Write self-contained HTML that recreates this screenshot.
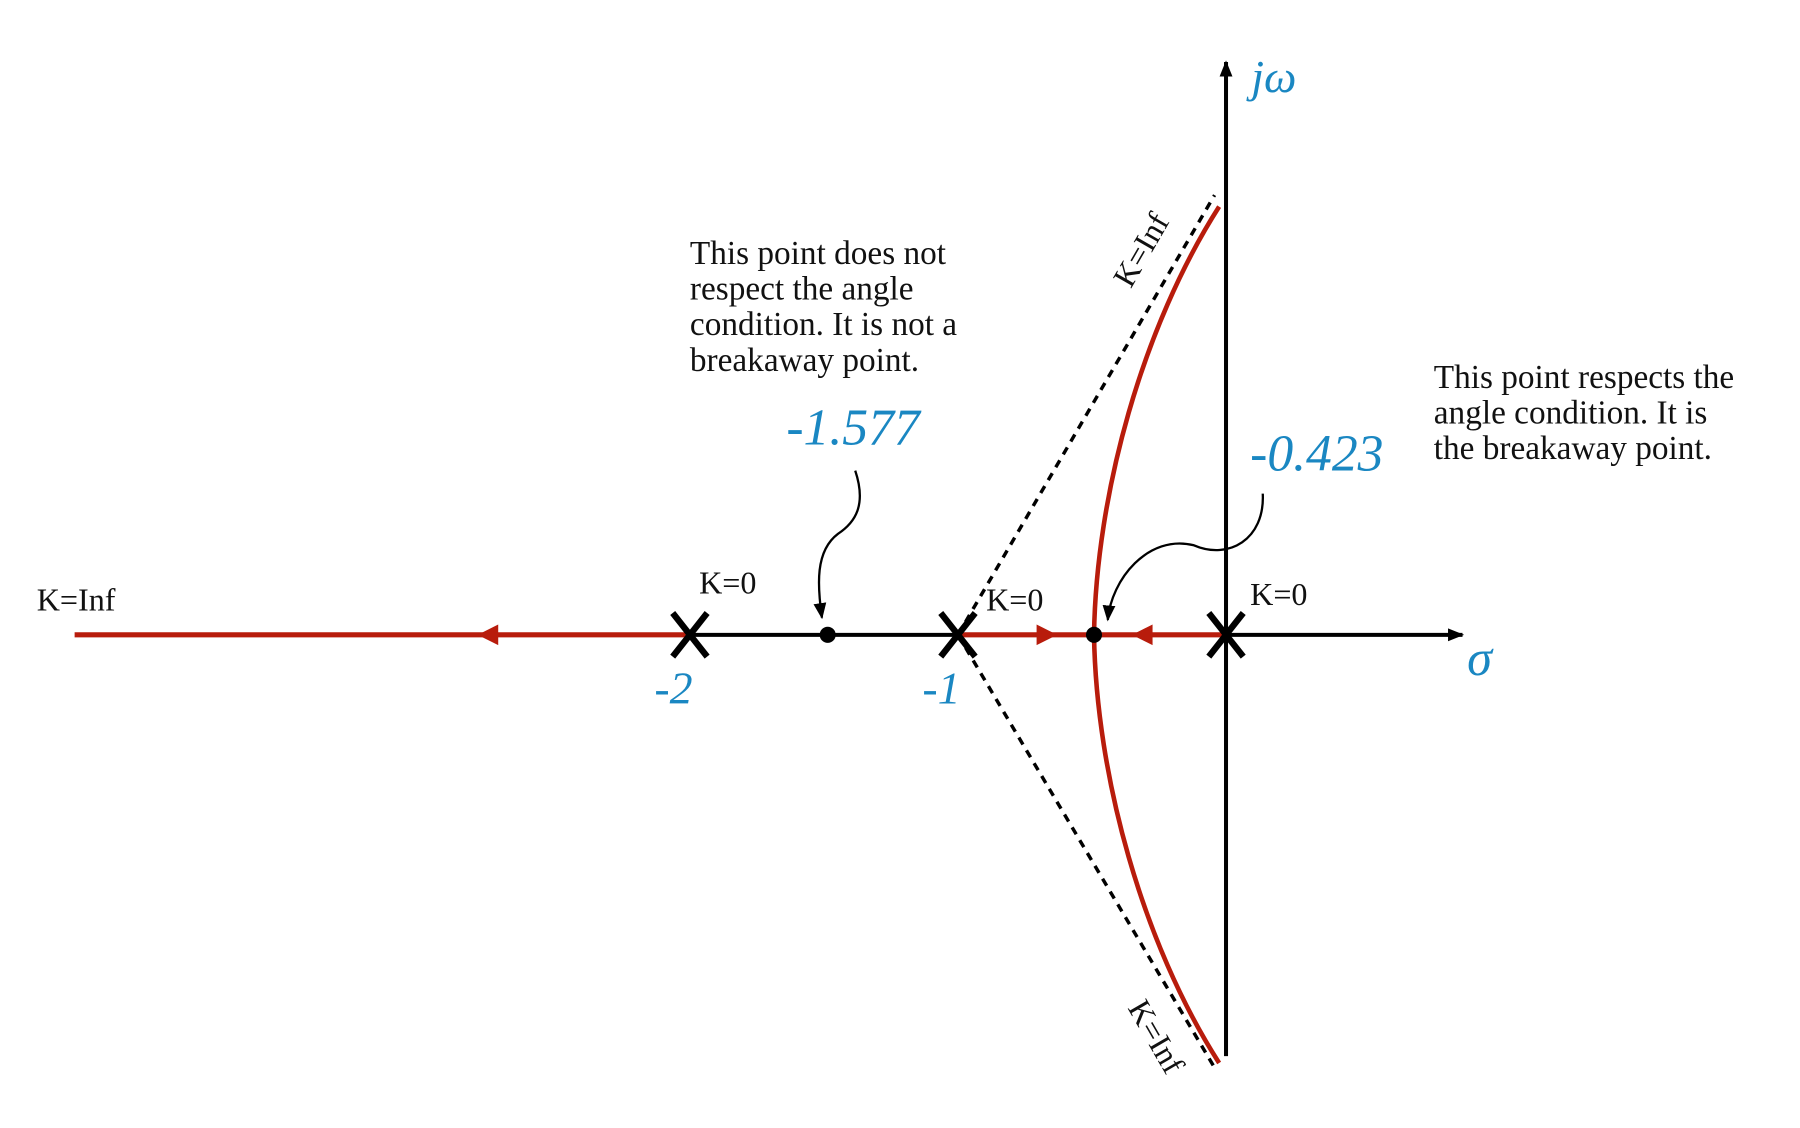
<!DOCTYPE html>
<html><head><meta charset="utf-8"><style>
html,body{margin:0;padding:0;background:#fff;}
svg{display:block;}
text{font-family:"Liberation Serif",serif;}
.blue{fill:#1a87c2;font-style:italic;}
</style></head><body>
<svg id="chart" width="1800" height="1128" viewBox="0 0 1568 982.6" preserveAspectRatio="none" xmlns="http://www.w3.org/2000/svg">
<defs>
<marker id="ah" viewBox="0 0 10 10" refX="9" refY="5" markerUnits="userSpaceOnUse" markerWidth="14" markerHeight="14" orient="auto"><path d="M0,1 L10,5 L0,9 z" fill="#000"/></marker>
<marker id="ahs" viewBox="0 0 10 10" refX="9" refY="5" markerUnits="userSpaceOnUse" markerWidth="14" markerHeight="14" orient="auto"><path d="M0,1 L10,5 L0,9 z" fill="#000"/></marker>
</defs>
<g id="g"></g>
</svg>
<script>
// data
const poles = [-2, -1, 0];
const poleLabels = ["-2", "-1", ""];
const candidatePoints = [1.486, 0.4925]; // visual positions (distance left of origin)
const candidateLabels = ["-1.577", "-0.423"];
const ox = 1068, oy = 553, unit = 233.5;
function X(v){ return ox + v*unit; }
const svg = "http://www.w3.org/2000/svg";
const g = document.getElementById('g');
function mk(tag, attrs, parent){ const e=document.createElementNS(svg,tag); for(const k in attrs) e.setAttribute(k,attrs[k]); (parent||g).appendChild(e); return e; }
const RED="#b81c0c";

// asymptotes
let a1 = mk('line',{x1:X(-1),y1:oy,x2:1058,y2:170,stroke:"#000","stroke-width":3,"stroke-dasharray":"7,6"});
 
let a2 = mk('line',{x1:X(-1),y1:oy,x2:1058,y2:930,stroke:"#000","stroke-width":3,"stroke-dasharray":"7,6"});
 

// axes
let ax = mk('line',{x1:X(-2),y1:oy,x2:1274,y2:oy,stroke:"#000","stroke-width":3.5,"marker-end":"url(#ah)"});
 
let ay = mk('line',{x1:ox,y1:920,x2:ox,y2:54,stroke:"#000","stroke-width":3.5,"marker-end":"url(#ah)"});
 

// red locus on real axis
let r1 = mk('line',{x1:65,y1:oy,x2:X(-2),y2:oy,stroke:RED,"stroke-width":4.5});
 
let r2 = mk('line',{x1:X(-1),y1:oy,x2:X(0),y2:oy,stroke:RED,"stroke-width":4.5});
 
const bx = X(-candidatePoints[1]);
let cv = mk('path',{d:`M1062,180 C995,285 ${bx+2},430 ${bx},${oy} C${bx+2},676 995,821 1062,926`,fill:"none",stroke:RED,"stroke-width":4});
 

// direction arrows
function tri(x,dir,name){ const p=mk('path',{d:`M${x+dir*9},${oy} L${x-dir*9},${oy-9} L${x-dir*9},${oy+9} z`,fill:RED});
    }
tri(425,-1,'direction-arrow-left'); tri(912,1,'direction-arrow-right'); tri(995,-1,'direction-arrow-breakaway');

// poles
poles.forEach((p,i)=>{
  const x=X(p);
  const e=mk('path',{d:`M${x-15},${oy-19} L${x+15},${oy+19} M${x+15},${oy-19} L${x-15},${oy+19}`,stroke:"#000","stroke-width":5.5,fill:"none"});
   
  if(poleLabels[i]){ const t=mk('text',{x:x-31,y:oy+60,"font-size":40,class:"blue"}); t.textContent=poleLabels[i];
      }
});

// candidate points
candidatePoints.forEach((c,i)=>{
  const d=mk('circle',{cx:X(-c),cy:oy,r:7,fill:"#000"});
   
});
let l1=mk('text',{x:685,y:387,"font-size":45,class:"blue"}); l1.textContent=candidateLabels[0];
 
let l2=mk('text',{x:1089,y:410,"font-size":45,class:"blue"}); l2.textContent=candidateLabels[1];
 

// curved pointers
let c1=mk('path',{d:"M745,410 C755,440 745,455 730,465 C710,480 712,510 716,538",fill:"none",stroke:"#000","stroke-width":2,"marker-end":"url(#ahs)"});
 
let c2=mk('path',{d:"M1100,430 C1102,470 1070,488 1040,475 C1000,465 968,505 965,540",fill:"none",stroke:"#000","stroke-width":2,"marker-end":"url(#ahs)"});
 
</script>
<svg style="position:absolute;left:0;top:0" width="1800" height="1128" viewBox="0 0 1568 982.6" preserveAspectRatio="none" xmlns="http://www.w3.org/2000/svg">
<g font-family="Liberation Serif, serif" fill="#111">
<text x="32" y="532" font-size="28">K=Inf</text>
<text x="609" y="517" font-size="28">K=0</text>
<text x="859" y="532" font-size="28">K=0</text>
<text x="1089" y="527" font-size="28">K=0</text>
<text transform="translate(985,252) rotate(-60)" font-size="28">K=Inf</text>
<text transform="translate(982,878) rotate(60)" font-size="28">K=Inf</text>
<g font-size="29">
<text x="601" y="230">This point does not</text>
<text x="601" y="261">respect the angle</text>
<text x="601" y="292">condition. It is not a</text>
<text x="601" y="323">breakaway point.</text>
</g>
<g font-size="29">
<text x="1249" y="338">This point respects the</text>
<text x="1249" y="369">angle condition. It is</text>
<text x="1249" y="400">the breakaway point.</text>
</g>
</g>
<text x="1090" y="80" font-size="40" fill="#1a87c2" font-style="italic" font-family="Liberation Serif, serif">jω</text>
<text x="1278" y="588" font-size="44" fill="#1a87c2" font-style="italic" font-family="Liberation Serif, serif">σ</text>
</svg>
</body></html>
